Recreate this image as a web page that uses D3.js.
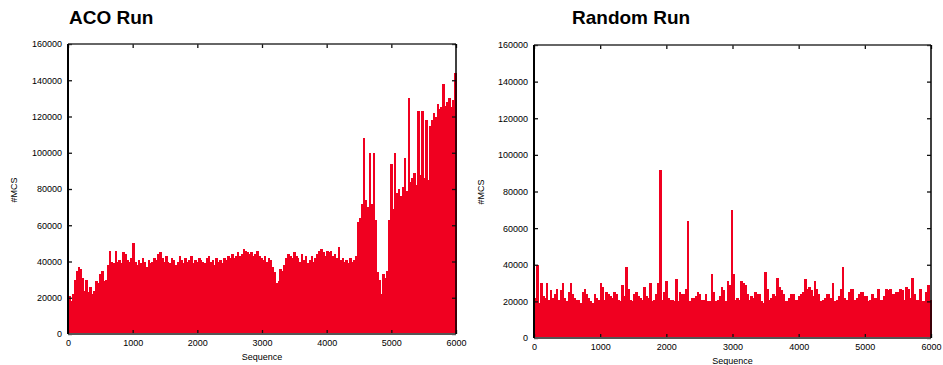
<!DOCTYPE html>
<html>
<head>
<meta charset="utf-8">
<script src="https://cdn.jsdelivr.net/npm/d3@7"></script>
<style>
  html, body { margin: 0; padding: 0; background: #fff; }
  svg { display: block; }
  text { font-family: "Liberation Sans", Arial, Helvetica, sans-serif; }
</style>
</head>
<body>
<svg id="chart" width="943" height="365"></svg>
<script>
// ---------- data ----------
const seqStep = 30;              // sequence units per bar
const xTicks = [0, 1000, 2000, 3000, 4000, 5000, 6000];
const yTicks = [0, 20000, 40000, 60000, 80000, 100000, 120000, 140000, 160000];

const acoValues = [
  21000, 18000, 22000, 30000, 35000, 37000, 36000, 31000, 24000, 30000,
  23000, 26000, 22000, 24000, 29000, 28000, 33000, 35000, 29000, 30000,
  38000, 46000, 40000, 39000, 46000, 40000, 41000, 39000, 45000, 44000,
  41000, 40000, 42000, 50000, 40000, 38000, 41000, 39000, 42000, 40000,
  37000, 41000, 39000, 40000, 42000, 41000, 44000, 45000, 42000, 40000,
  43000, 40000, 39000, 42000, 41000, 38000, 40000, 43000, 41000, 39000,
  42000, 40000, 41000, 43000, 39000, 41000, 40000, 42000, 41000, 40000,
  39000, 42000, 43000, 40000, 41000, 38000, 42000, 40000, 41000, 39000,
  42000, 41000, 43000, 42000, 44000, 42000, 43000, 45000, 43000, 44000,
  47000, 46000, 45000, 44000, 45000, 43000, 44000, 46000, 43000, 42000,
  41000, 43000, 40000, 42000, 41000, 37000, 34000, 28000, 29000, 36000,
  35000, 38000, 42000, 44000, 43000, 42000, 45000, 43000, 42000, 40000,
  44000, 41000, 43000, 39000, 41000, 43000, 40000, 42000, 44000, 46000,
  47000, 45000, 43000, 46000, 45000, 46000, 43000, 44000, 42000, 48000,
  41000, 42000, 40000, 41000, 39000, 42000, 40000, 41000, 43000, 62000,
  64000, 72000, 108000, 74000, 70000, 100000, 72000, 100000, 63000, 34000,
  30000, 22000, 33000, 31000, 35000, 63000, 94000, 69000, 100000, 78000,
  80000, 76000, 81000, 97000, 79000, 130000, 84000, 86000, 89000, 82000,
  123000, 88000, 123000, 86000, 118000, 85000, 115000, 118000, 122000, 120000,
  127000, 124000, 125000, 138000, 126000, 128000, 130000, 125000, 129000, 144000
];

const randomValues = [
  22000, 40000, 19000, 30000, 23000, 22000, 30000, 21000, 26000, 22000,
  24000, 27000, 21000, 26000, 30000, 22000, 20000, 25000, 30000, 24000,
  22000, 21000, 21000, 19000, 25000, 27000, 24000, 22000, 20000, 19000,
  24000, 22000, 21000, 30000, 28000, 21000, 25000, 24000, 23000, 22000,
  25000, 24000, 21000, 20000, 29000, 23000, 39000, 27000, 21000, 20000,
  24000, 25000, 23000, 22000, 21000, 28000, 23000, 22000, 30000, 20000,
  21000, 24000, 30000, 92000, 21000, 25000, 31000, 22000, 21000, 21000,
  20000, 32000, 20000, 25000, 24000, 24000, 27000, 64000, 20000, 22000,
  22000, 23000, 25000, 24000, 21000, 21000, 24000, 20000, 20000, 35000,
  25000, 20000, 21000, 23000, 28000, 26000, 20000, 31000, 29000, 70000,
  35000, 21000, 22000, 21000, 31000, 30000, 29000, 24000, 21000, 23000,
  22000, 25000, 24000, 24000, 20000, 19000, 36000, 27000, 21000, 22000,
  24000, 23000, 33000, 28000, 26000, 24000, 20000, 20000, 22000, 24000,
  24000, 21000, 21000, 23000, 24000, 25000, 32000, 27000, 28000, 26000,
  23000, 31000, 27000, 24000, 20000, 21000, 22000, 24000, 24000, 22000,
  30000, 20000, 21000, 23000, 27000, 39000, 22000, 21000, 25000, 27000,
  27000, 21000, 22000, 24000, 25000, 25000, 23000, 23000, 20000, 21000,
  24000, 22000, 22000, 27000, 21000, 21000, 23000, 27000, 26000, 27000,
  24000, 24000, 25000, 25000, 27000, 26000, 21000, 28000, 27000, 22000,
  33000, 24000, 21000, 21000, 27000, 20000, 20000, 25000, 29000, 21000
];

// ---------- drawing ----------
const svg = d3.select("#chart");
const barColor = "#f00020";

function panel(cfg) {
  const w = cfg.right - cfg.left, h = cfg.bottom - cfg.top;
  const g = svg.append("g").attr("transform", `translate(${cfg.left},${cfg.top})`);
  const x = d3.scaleLinear().domain([0, 6000]).range([0, w]);
  const y = d3.scaleLinear().domain([0, 160000]).range([h, 0]);

  // bars (impulses)
  g.append("g").attr("shape-rendering", "crispEdges")
    .selectAll("rect").data(cfg.values).join("rect")
    .attr("x", (d, i) => x(i * seqStep))
    .attr("width", x(seqStep) - x(0) + 0.6)
    .attr("y", d => y(d))
    .attr("height", d => y(0) - y(d))
    .attr("fill", barColor);

  const tickLen = 4;
  const styleAxis = sel => {
    sel.select(".domain").remove();
    sel.selectAll(".tick line").attr("stroke", "#111").attr("stroke-width", 1.3);
    sel.selectAll(".tick text").attr("font-size", 9).attr("fill", "#000")
      .attr("font-family", '"Liberation Sans", Arial, sans-serif');
  };

  g.append("g").call(d3.axisLeft(y).tickValues(yTicks).tickFormat(d3.format("d"))
      .tickSize(-tickLen).tickPadding(6)).call(styleAxis);
  g.append("g").attr("transform", `translate(${w},0)`)
    .call(d3.axisRight(y).tickValues(yTicks).tickFormat("").tickSize(-tickLen)).call(styleAxis);
  g.append("g").attr("transform", `translate(0,${h})`)
    .call(d3.axisBottom(x).tickValues(xTicks).tickFormat(d3.format("d"))
      .tickSize(-tickLen).tickPadding(6)).call(styleAxis);
  g.append("g")
    .call(d3.axisTop(x).tickValues(xTicks).tickFormat("").tickSize(-tickLen)).call(styleAxis);

  // frame
  g.append("line").attr("x1", 0).attr("x2", w).attr("y1", 0).attr("y2", 0)
    .attr("stroke", "#333").attr("stroke-width", 1.5);
  g.append("line").attr("x1", 0).attr("x2", w).attr("y1", h).attr("y2", h)
    .attr("stroke", "#555").attr("stroke-width", 2);
  g.append("line").attr("x1", 0).attr("x2", 0).attr("y1", 0).attr("y2", h)
    .attr("stroke", "#000").attr("stroke-width", 2);
  g.append("line").attr("x1", w).attr("x2", w).attr("y1", 0).attr("y2", h)
    .attr("stroke", "#000").attr("stroke-width", 1.5);

  // labels
  svg.append("text").attr("x", cfg.titleX).attr("y", 24)
    .attr("font-size", 19).attr("font-weight", "bold").attr("fill", "#000")
    .text(cfg.title);
  svg.append("text").attr("x", cfg.left + w / 2).attr("y", cfg.bottom + 26)
    .attr("text-anchor", "middle").attr("font-size", 9).attr("fill", "#000")
    .text("Sequence");
  svg.append("text")
    .attr("transform", `translate(${cfg.ylabX},${cfg.ylabY}) rotate(-90)`)
    .attr("text-anchor", "middle").attr("font-size", 9).attr("fill", "#000")
    .text("#MCS");
}

panel({ left: 68, right: 456, top: 44, bottom: 334, values: acoValues,
        title: "ACO Run", titleX: 69, ylabX: 17, ylabY: 190 });
panel({ left: 534, right: 931, top: 45, bottom: 338, values: randomValues,
        title: "Random Run", titleX: 572, ylabX: 484, ylabY: 192 });
</script>
</body>
</html>
